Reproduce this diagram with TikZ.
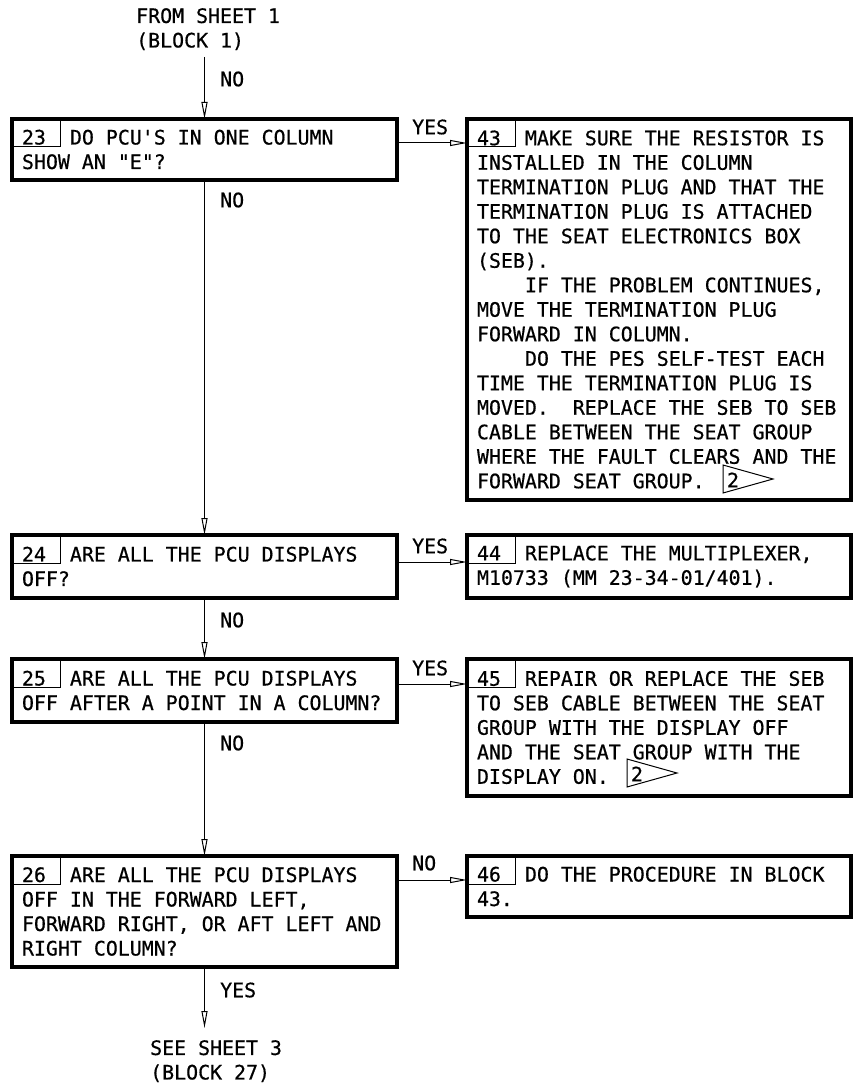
\documentclass[tikz,border=0pt]{standalone}
\usepackage{fontspec}
\newfontfamily\monofnt[FakeBold=0.6]{DejaVu Sans Mono}
\usetikzlibrary{arrows.meta,calc}
\newcommand\bfnt{\monofnt\fontsize{19.9}{24.5}\selectfont\frenchspacing}
\newcommand\fixsp{\spaceskip=\fontcharwd\font`A\relax\xspaceskip=\spaceskip}
\newcommand\sq{\textquotesingle}
\newcommand\dq{\textquotedbl}
\tikzset{
  box/.style={draw, line width=3.4pt, anchor=north west, outer sep=0pt,
    inner xsep=10pt, inner ysep=0pt, align=left, font=\bfnt,
    execute at begin node=\fixsp},
  cell/.style={draw, line width=1pt, anchor=north west, outer sep=0pt,
    minimum width=48pt, minimum height=28pt, inner sep=0pt},
  lbl/.style={font=\bfnt, inner sep=0pt, execute at begin node=\fixsp},
  arr/.style={line width=1pt, -{Triangle[open, length=17pt, width=6pt, line width=1pt]}},
  tri/.style={line width=1pt},
}
\begin{document}
\begin{tikzpicture}[x=1pt,y=-1pt]
\useasboundingbox (0,0) rectangle (855,1083);

% terminals
\node[lbl, align=left, anchor=north west] (from) at (136,8) {FROM SHEET 1\\(BLOCK 1)};
\node[lbl, align=left, anchor=north west] (see) at (150,1040) {SEE SHEET 3\\(BLOCK 27)};

% decision boxes
\node[box, text width=365pt, minimum height=61pt] (b23) at (12,119)
  {23\hspace*{24pt}DO PCU\sq S IN ONE COLUMN\\SHOW AN \dq E\dq ?};
\node[box, text width=365pt, minimum height=63pt] (b24) at (12,535)
  {24\hspace*{24pt}ARE ALL THE PCU DISPLAYS\\OFF?};
\node[box, text width=365pt, minimum height=63pt] (b25) at (12,659)
  {25\hspace*{24pt}ARE ALL THE PCU DISPLAYS\\OFF AFTER A POINT IN A COLUMN?};
\node[box, text width=365pt, minimum height=111pt] (b26) at (12,856)
  {26\hspace*{24pt}ARE ALL THE PCU DISPLAYS\\OFF IN THE FORWARD LEFT,\\FORWARD RIGHT, OR AFT LEFT AND\\RIGHT COLUMN?};

% action boxes
\node[box, text width=364pt, minimum height=381pt] (b43) at (467,119)
  {43\hspace*{24pt}MAKE SURE THE RESISTOR IS\\
   INSTALLED IN THE COLUMN\\
   TERMINATION PLUG AND THAT THE\\
   TERMINATION PLUG IS ATTACHED\\
   TO THE SEAT ELECTRONICS BOX\\
   (SEB).\\
   \hspace*{48pt}IF THE PROBLEM CONTINUES,\\
   MOVE THE TERMINATION PLUG\\
   FORWARD IN COLUMN.\\
   \hspace*{48pt}DO THE PES SELF-TEST EACH\\
   TIME THE TERMINATION PLUG IS\\
   MOVED.\ \ REPLACE THE SEB TO SEB\\
   CABLE BETWEEN THE SEAT GROUP\\
   WHERE THE FAULT CLEARS AND THE\\
   FORWARD SEAT GROUP.};
\node[box, text width=364pt, minimum height=63pt] (b44) at (467,535)
  {44\hspace*{24pt}REPLACE THE MULTIPLEXER,\\M10733 (MM 23-34-01/401).};
\node[box, text width=364pt, minimum height=137pt] (b45) at (467,659)
  {45\hspace*{24pt}REPAIR OR REPLACE THE SEB\\
   TO SEB CABLE BETWEEN THE SEAT\\
   GROUP WITH THE DISPLAY OFF\\
   AND THE SEAT GROUP WITH THE\\
   DISPLAY ON.};
\node[box, text width=364pt, minimum height=61pt] (b46) at (467,856)
  {46\hspace*{24pt}DO THE PROCEDURE IN BLOCK\\43.};

% number cells
\foreach \b in {b23,b24,b25,b26,b43,b44,b45,b46}
  \node[cell] (\b c) at (\b.north west) {};

% note triangles
\draw[tri] (723,465) -- (723,493) -- (773,479) -- cycle;
\node[lbl] (n43) at (733,480) {2};
\draw[tri] (627,759) -- (627,787) -- (677,773) -- cycle;
\node[lbl] (n45) at (637,774) {2};

% main column
\coordinate (start) at (204.5,57);
\coordinate (end) at (204.5,1028);
\draw[arr] (start) -- (b23.north);
\draw[arr] (b23.south) -- (b24.north);
\draw[arr] (b24.south) -- (b25.north);
\draw[arr] (b25.south) -- (b26.north);
\draw[arr] (b26.south) -- (end);

% branches
\path ([yshift=-24pt]b23.north east) coordinate (y23);
\path ([yshift=-27pt]b24.north east) coordinate (y24);
\path ([yshift=-25pt]b25.north east) coordinate (y25);
\path ([yshift=-24pt]b26.north east) coordinate (y26);
\draw[arr] (y23) -- (y23 -| b43.west);
\draw[arr] (y24) -- (y24 -| b44.west);
\draw[arr] (y25) -- (y25 -| b45.west);
\draw[arr] (y26) -- (y26 -| b46.west);

% labels
\node[lbl, anchor=west] (l0) at (220,79) {NO};
\node[lbl, anchor=west] (l1) at (220,200) {NO};
\node[lbl, anchor=west] (l2) at (220,620) {NO};
\node[lbl, anchor=west] (l3) at (220,743) {NO};
\node[lbl, anchor=west] (l4) at (220,990) {YES};
\node[lbl, anchor=west] (r1) at (412,127) {YES};
\node[lbl, anchor=west] (r2) at (412,546) {YES};
\node[lbl, anchor=west] (r3) at (412,668) {YES};
\node[lbl, anchor=west] (r4) at (412,863) {NO};
\end{tikzpicture}
\end{document}
